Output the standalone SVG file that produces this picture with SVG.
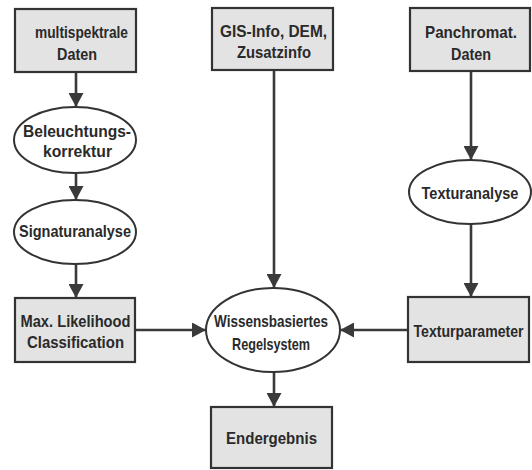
<svg xmlns="http://www.w3.org/2000/svg" width="532" height="470" viewBox="0 0 532 470">
<defs>
<style>
.box{fill:#e3e3e3;stroke:#333;stroke-width:2.2}
.ell{fill:#fff;stroke:#333;stroke-width:2}
.t{font-family:"Liberation Sans",Arial,sans-serif;font-weight:bold;font-size:17px;fill:#2a2a2a;text-anchor:middle}
.c{stroke:#3a3a3a;stroke-width:2.6;fill:none}
</style>
<marker id="ah" markerWidth="15" markerHeight="15" refX="14" refY="7.5" orient="auto" markerUnits="userSpaceOnUse">
<path d="M0,0 L14,7.5 L0,15 Z" fill="#3a3a3a"/>
</marker>
</defs>
<rect width="532" height="470" fill="#fff"/>
<g id="connectors">
<line class="c" x1="76" y1="73" x2="76" y2="107" marker-end="url(#ah)"/>
<line class="c" x1="76" y1="173" x2="76" y2="200" marker-end="url(#ah)"/>
<line class="c" x1="76" y1="264" x2="76" y2="298" marker-end="url(#ah)"/>
<line class="c" x1="135" y1="330" x2="206" y2="330" marker-end="url(#ah)"/>
<line class="c" x1="274" y1="71" x2="274" y2="288" marker-end="url(#ah)"/>
<line class="c" x1="471" y1="71" x2="471" y2="160" marker-end="url(#ah)"/>
<line class="c" x1="471" y1="224" x2="471" y2="297" marker-end="url(#ah)"/>
<line class="c" x1="408" y1="330" x2="340" y2="330" marker-end="url(#ah)"/>
<line class="c" x1="274" y1="372" x2="274" y2="407" marker-end="url(#ah)"/>
</g>
<g id="multispektrale">
<rect class="box" x="15" y="9" width="121" height="63"/>
<text class="t" x="81.5" y="38" textLength="93" lengthAdjust="spacingAndGlyphs">multispektrale</text>
<text class="t" x="77" y="60" textLength="40" lengthAdjust="spacingAndGlyphs">Daten</text>
</g>
<g id="gis">
<rect class="box" x="212" y="8" width="121" height="62"/>
<text class="t" x="273.5" y="37" textLength="107" lengthAdjust="spacingAndGlyphs">GIS-Info, DEM,</text>
<text class="t" x="274" y="58" textLength="74" lengthAdjust="spacingAndGlyphs">Zusatzinfo</text>
</g>
<g id="panchromat">
<rect class="box" x="410" y="8" width="120" height="63"/>
<text class="t" x="471" y="38" textLength="92" lengthAdjust="spacingAndGlyphs">Panchromat.</text>
<text class="t" x="471" y="60" textLength="40" lengthAdjust="spacingAndGlyphs">Daten</text>
</g>
<g id="beleuchtung">
<ellipse class="ell" cx="75" cy="140" rx="61" ry="33"/>
<text class="t" x="77" y="137" textLength="108" lengthAdjust="spacingAndGlyphs">Beleuchtungs-</text>
<text class="t" x="77.5" y="157" textLength="69" lengthAdjust="spacingAndGlyphs">korrektur</text>
</g>
<g id="signatur">
<ellipse class="ell" cx="75" cy="232" rx="61" ry="32"/>
<text class="t" x="75" y="237" textLength="112" lengthAdjust="spacingAndGlyphs">Signaturanalyse</text>
</g>
<g id="texturanalyse">
<ellipse class="ell" cx="470" cy="192" rx="61" ry="32"/>
<text class="t" transform="translate(470,199) scale(0.857,1)" x="0" y="0">Texturanalyse</text>
</g>
<g id="maxlikelihood">
<rect class="box" x="15" y="298" width="120" height="64"/>
<text class="t" x="75.5" y="327" textLength="110" lengthAdjust="spacingAndGlyphs">Max. Likelihood</text>
<text class="t" x="75.5" y="348" textLength="97" lengthAdjust="spacingAndGlyphs">Classification</text>
</g>
<g id="wissensbasiert">
<ellipse class="ell" cx="273" cy="330" rx="67" ry="42"/>
<text class="t" x="271" y="327" textLength="114" lengthAdjust="spacingAndGlyphs">Wissensbasiertes</text>
<text class="t" x="271" y="350" textLength="78" lengthAdjust="spacingAndGlyphs">Regelsystem</text>
</g>
<g id="texturparameter">
<rect class="box" x="408" y="297" width="121" height="65"/>
<text class="t" transform="translate(468.5,337) scale(0.828,1)" x="0" y="0">Texturparameter</text>
</g>
<g id="endergebnis">
<rect class="box" x="211" y="407" width="121" height="61"/>
<text class="t" x="271.5" y="444" textLength="91" lengthAdjust="spacingAndGlyphs">Endergebnis</text>
</g>
</svg>
